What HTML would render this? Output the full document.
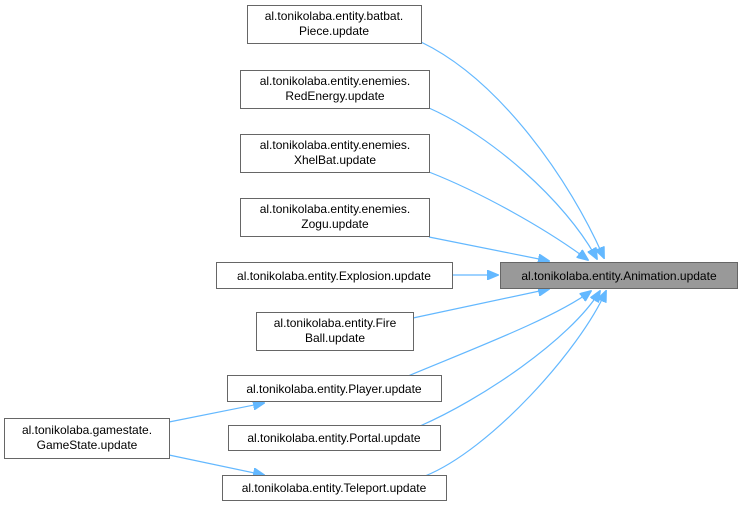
<!DOCTYPE html>
<html><head><meta charset="utf-8"><style>
body{margin:0;background:#fff;}
svg{display:block;font-family:"Liberation Sans",Arial,sans-serif;font-size:12px;}
</style></head><body>
<svg width="741" height="506" viewBox="0 0 741 506">
<defs><marker id="a" markerWidth="12" markerHeight="10" refX="11" refY="5" orient="auto" markerUnits="userSpaceOnUse"><path d="M0,0 L12,5 L0,10 Z" fill="#63b8ff" stroke="#63b8ff"/></marker></defs>
<g fill="none" stroke="#63b8ff" stroke-width="1.2" marker-end="url(#a)">
<path d="M421,42 C500,80 570,180 604,258"/>
<path d="M429,108 C490,135 565,200 597,259"/>
<path d="M429,172 C480,192 545,228 588,260"/>
<path d="M429,237 L549,261"/>
<path d="M452,275 L498,275"/>
<path d="M413,318 L549,289"/>
<path d="M408,376 C470,350 555,318 591,291"/>
<path d="M420,426 C480,400 570,340 600,291"/>
<path d="M425,476 C490,450 580,350 606,291"/>
<path d="M169,422 L264,403"/>
<path d="M169,455 L264,475"/>
</g>
<g stroke="#666" stroke-width="1" fill="#fff">
<rect x="247.5" y="5.5" width="174" height="38"/>
<rect x="240.5" y="70.5" width="189" height="38"/>
<rect x="240.5" y="134.5" width="189" height="38"/>
<rect x="240.5" y="198.5" width="189" height="38"/>
<rect x="216.5" y="262.5" width="236" height="26"/>
<rect x="256.5" y="312.5" width="157" height="38"/>
<rect x="227.5" y="375.5" width="214" height="26"/>
<rect x="228.5" y="425.5" width="212" height="25"/>
<rect x="222.5" y="475.5" width="224" height="25"/>
<rect x="4.5" y="418.5" width="165" height="40"/>
<rect x="500.5" y="262.5" width="237" height="26" fill="#999"/>
</g>
<g fill="#000" text-anchor="middle">
<text x="334" y="20">al.tonikolaba.entity.batbat.</text><text x="334" y="35">Piece.update</text>
<text x="335" y="85">al.tonikolaba.entity.enemies.</text><text x="335" y="100">RedEnergy.update</text>
<text x="335" y="149">al.tonikolaba.entity.enemies.</text><text x="335" y="164">XhelBat.update</text>
<text x="335" y="213">al.tonikolaba.entity.enemies.</text><text x="335" y="228">Zogu.update</text>
<text x="334" y="280">al.tonikolaba.entity.Explosion.update</text>
<text x="335" y="327">al.tonikolaba.entity.Fire</text><text x="335" y="342">Ball.update</text>
<text x="334" y="393">al.tonikolaba.entity.Player.update</text>
<text x="334" y="442">al.tonikolaba.entity.Portal.update</text>
<text x="334" y="492">al.tonikolaba.entity.Teleport.update</text>
<text x="87" y="434">al.tonikolaba.gamestate.</text><text x="87" y="449">GameState.update</text>
<text x="619" y="280">al.tonikolaba.entity.Animation.update</text>
</g>
</svg>
</body></html>
